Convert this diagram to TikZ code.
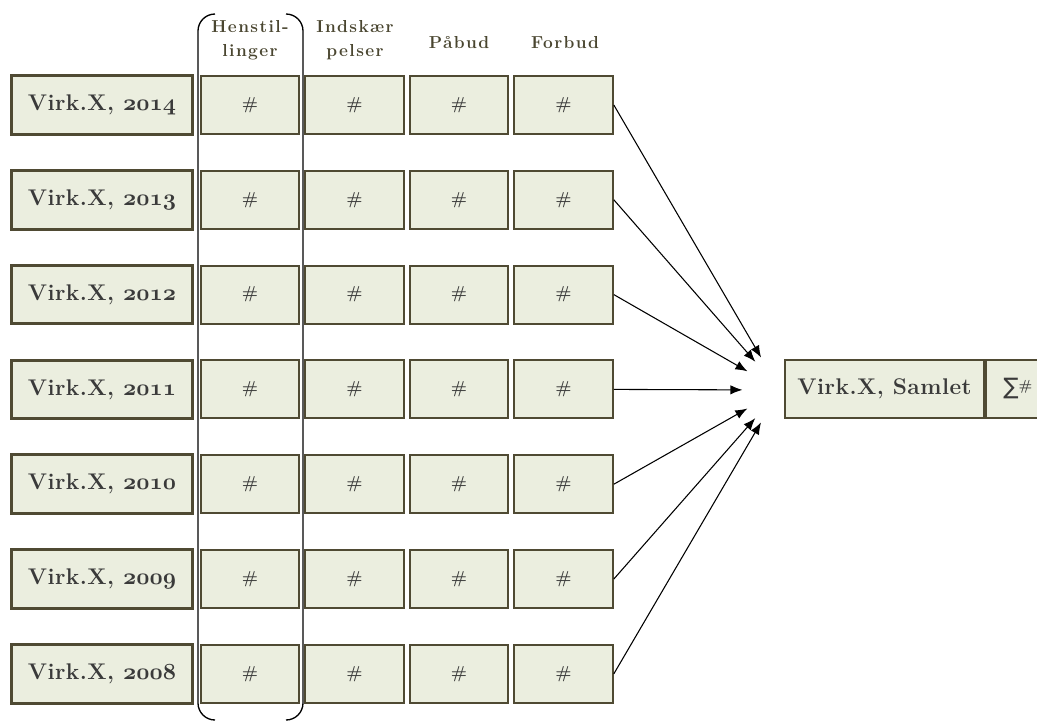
\documentclass[tikz,border=0pt]{standalone}
\usepackage{fontspec}
\usetikzlibrary{arrows.meta}
\newfontfamily\spacedfont[LetterSpace=8]{Latin Modern Roman}
\newfontfamily\wordfont[LetterSpace=2]{Latin Modern Roman}
\newfontfamily\sumfont{DejaVu Sans}
\newcommand{\osf}[1]{{\usefont{OML}{cmm}{b}{it}#1}}
\definecolor{boxfill}{HTML}{EBEEDF}
\definecolor{boxline}{HTML}{4F4A33}
\definecolor{boxtext}{HTML}{3A3A3A}
\definecolor{headtext}{HTML}{4A4630}

\begin{document}
\begin{tikzpicture}[x=0.75pt, y=-0.75pt,
  cell/.style={draw=boxline, line width=1.5pt, fill=boxfill, inner sep=0pt,
    minimum width=74pt, minimum height=43.5pt, text=boxtext,
    font=\fontsize{13}{15}\selectfont\bfseries},
  yearbox/.style={cell, line width=2.3pt, minimum width=136pt, minimum height=44pt,
    font=\wordfont\fontsize{17}{20}\selectfont\bfseries},
  head/.style={text=headtext, align=center, inner sep=0pt,
    font=\spacedfont\fontsize{13}{18}\selectfont\bfseries},
  hub/.style={circle, draw=none, minimum size=55.5pt, inner sep=0pt},
  >={Latex[length=9pt,width=7pt]}, line width=0.8pt]
\useasboundingbox (0,0) rectangle (1037,722);
% column heads
\node[head] (hd1) at (250,40) {Henstil-\\linger};
\node[head] (hd2) at (355,40) {Indskær\\pelser};
\node[head] (hd3) at (459,43) {Påbud};
\node[head] (hd4) at (565,43) {Forbud};
% summary
\node[hub] (hub) at (780,390) {};
\node[cell, minimum width=149pt, font=\wordfont\fontsize{17}{20}\selectfont\bfseries] (total) at (884.5,389) {Virk.X, Samlet};
\node[cell, minimum width=52pt, anchor=west] (sigma) at (total.east) {\hspace*{-4pt}{\sumfont\mdseries\fontsize{17}{20}\selectfont ∑}\raisebox{3pt}{\fontsize{11}{12}\selectfont\#}};
% rows
\foreach \yr [count=\i from 0] in {2014,2013,2012,2011,2010,2009,2008}{
  \pgfmathsetmacro\ry{105+94.8*\i}
  \node[yearbox] (yr\i) at (102,\ry) {Virk.X, \osf{\yr}};
  \node[cell] (c\i-1) at (250,\ry) {\#};
  \node[cell] (c\i-2) at (354.5,\ry) {\#};
  \node[cell] (c\i-3) at (459,\ry) {\#};
  \node[cell] (c\i-4) at (563.5,\ry) {\#};
  \draw[->] (c\i-4.east) -- (hub);
}
% bracket round the first column
\draw[line width=1pt] (215,14) arc[start angle=-90, end angle=-180, radius=17] -- (198,703)
  arc[start angle=180, end angle=90, radius=17];
\draw[line width=1pt] (286,14) arc[start angle=-90, end angle=0, radius=17] -- (303,703)
  arc[start angle=0, end angle=90, radius=17];
\end{tikzpicture}
\end{document}
